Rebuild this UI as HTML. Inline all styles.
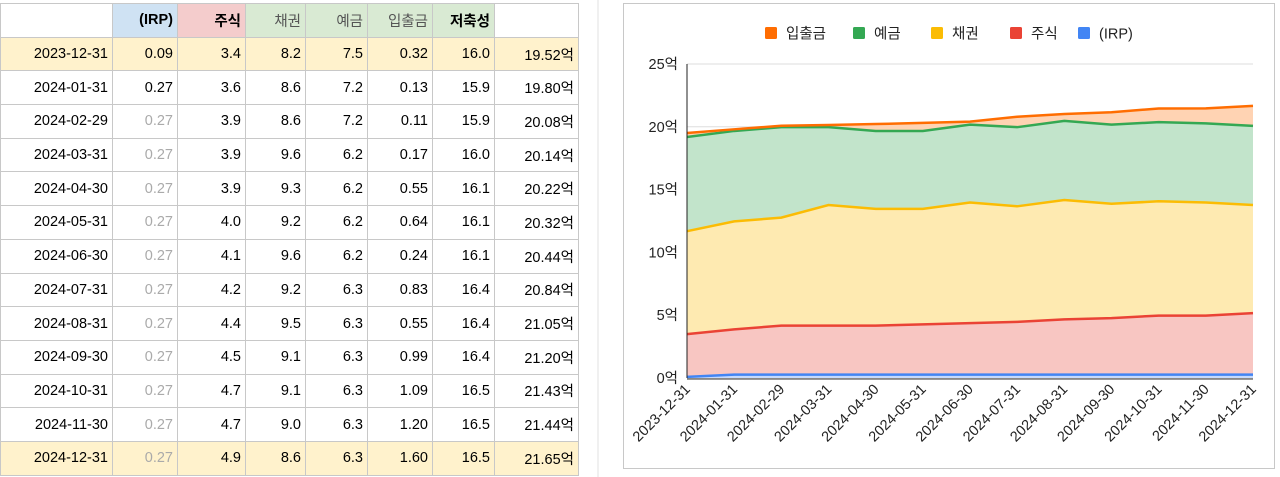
<!DOCTYPE html>
<html><head><meta charset="utf-8">
<style>
body{margin:0;width:1280px;height:477px;overflow:hidden;background:#fff;font-family:"Liberation Sans","Noto Sans CJK KR",sans-serif;position:relative}
table{position:absolute;left:0;top:3px;border-collapse:collapse;font-size:14.5px;color:#000}
td{border:1px solid #c8c8c8;height:33.7px;padding:0 4px 0 2px;text-align:right;box-sizing:border-box;white-space:nowrap}
tr.y td{background:#fff2cc}
.g{color:#aaa}
#bg{position:absolute;left:578px;top:0;width:702px;height:477px}
</style></head><body>
<svg id="bg" width="702" height="477">
<g stroke="#e2e2e2"><line x1="20" y1="0" x2="20" y2="477"/></g>
</svg>
<table>
<tr class="h"><td style="width:112px"></td><td style="width:65px;background:#cfe2f3;font-weight:bold">(IRP)</td><td style="width:68px;background:#f4cccc;font-weight:bold">주식</td><td style="width:60px;background:#d9ead3;color:#555">채권</td><td style="width:62px;background:#d9ead3;color:#555">예금</td><td style="width:65px;background:#d9ead3;color:#555">입출금</td><td style="width:62px;background:#d9ead3;font-weight:bold">저축성</td><td style="width:84px"></td></tr>
<tbody id="tb"></tbody>
</table>
<svg style="position:absolute;left:0;top:0" width="1280" height="477">
<rect x="623.5" y="3.5" width="651" height="465" fill="#fff" stroke="#c8c8c8"/>
<g id="chart"></g>
</svg>
<script>
const dates=["2023-12-31","2024-01-31","2024-02-29","2024-03-31","2024-04-30","2024-05-31","2024-06-30","2024-07-31","2024-08-31","2024-09-30","2024-10-31","2024-11-30","2024-12-31"];
const irp=[0.09,0.27,0.27,0.27,0.27,0.27,0.27,0.27,0.27,0.27,0.27,0.27,0.27];
const stock=[3.4,3.6,3.9,3.9,3.9,4.0,4.1,4.2,4.4,4.5,4.7,4.7,4.9];
const bond=[8.2,8.6,8.6,9.6,9.3,9.2,9.6,9.2,9.5,9.1,9.1,9.0,8.6];
const deposit=[7.5,7.2,7.2,6.2,6.2,6.2,6.2,6.3,6.3,6.3,6.3,6.3,6.3];
const cash=[0.32,0.13,0.11,0.17,0.55,0.64,0.24,0.83,0.55,0.99,1.09,1.20,1.60];
const savings=["16.0","15.9","15.9","16.0","16.1","16.1","16.1","16.4","16.4","16.4","16.5","16.5","16.5"];
const totals=["19.52","19.80","20.08","20.14","20.22","20.32","20.44","20.84","21.05","21.20","21.43","21.44","21.65"];
const yTicks=[0,5,10,15,20,25];

const tb=document.getElementById('tb');
dates.forEach((d,i)=>{
  const tr=document.createElement('tr');
  
  
  if(i==0||i==dates.length-1)tr.className='y';
  const cells=[d,irp[i].toFixed(2),stock[i].toFixed(1),bond[i].toFixed(1),deposit[i].toFixed(1),cash[i].toFixed(2),savings[i],totals[i]+'억'];
  cells.forEach((c,j)=>{
    const td=document.createElement('td');
    td.textContent=c;
    if(j==1&&i>=2)td.className='g';
    tr.appendChild(td);
  });
  tb.appendChild(tr);
});

const NS='http://www.w3.org/2000/svg';
const g=document.getElementById('chart');
const X0=687,X1=1253,Y0=378,Y1=64;
const xs=i=>X0+(X1-X0)*i/(dates.length-1);
const ys=v=>Y0-(Y0-Y1)*v/25;
function mk(t,a,parent){const e=document.createElementNS(NS,t);for(const k in a)e.setAttribute(k,a[k]);(parent||g).appendChild(e);return e;}
yTicks.forEach(v=>{
  const l=mk('line',{x1:X0,x2:X1,y1:ys(v),y2:ys(v),stroke:'#ddd'});
  
  
  const t=mk('text',{x:678,y:ys(v)+5,'text-anchor':'end','font-size':'14.5','fill':'#222'});
  t.textContent=v+'억';
  
  
});
const series=[[irp,'#4285f4','#c6dafc','irp'],[stock,'#ea4335','#f8c6c2','stock'],[bond,'#fbbc04','#feeab1','bond'],[deposit,'#34a853','#c2e4cb','deposit'],[cash,'#ff6d01','#ffd3b3','cash']];
let base=dates.map(()=>0);
const lines=[];
series.forEach(([arr,line,fill,nm])=>{
  const top=base.map((b,i)=>b+arr[i]);
  let pts=top.map((v,i)=>xs(i)+','+ys(v));
  let bpts=base.map((v,i)=>xs(i)+','+ys(v)).reverse();
  const a=mk('polygon',{points:pts.concat(bpts).join(' '),fill:fill});
  
  
  base=top;
  lines.push([pts.join(' '),line,nm]);
});
lines.forEach(([p,c,nm])=>{
  const l=mk('polyline',{points:p,fill:'none',stroke:c,'stroke-width':2.5});
  
  
});
mk('line',{x1:X0,x2:X0,y1:Y1,y2:Y0,stroke:'#222'});
mk('line',{x1:X0,x2:X1,y1:Y0+1,y2:Y0+1,stroke:'#333'});
dates.forEach((d,i)=>{
  const t=mk('text',{x:xs(i)+4,y:390,'text-anchor':'end','font-size':'14.5','fill':'#222',transform:`rotate(-45 ${xs(i)+4} 390)`});
  t.textContent=d;
  
  
});
const legend=[['입출금','#ff6d01',765],['예금','#34a853',853],['채권','#fbbc04',931],['주식','#ea4335',1010],['(IRP)','#4285f4',1078]];
legend.forEach(([n,c,x])=>{
  const r=mk('rect',{x:x,y:27,width:12,height:12,rx:1.5,fill:c});
  
  
  const t=mk('text',{x:x+21,y:38.5,'font-size':'14.5','fill':'#222'});
  t.textContent=n;
  
  
});
</script>
</body></html>
